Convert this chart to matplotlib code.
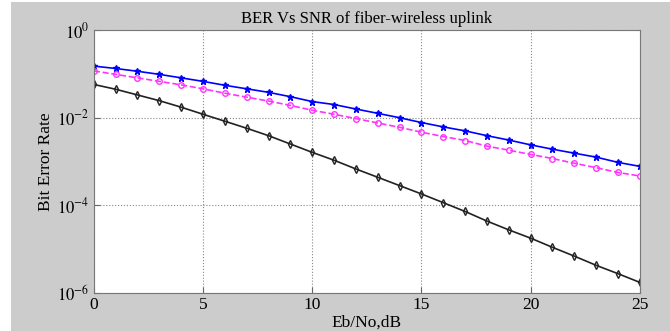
import matplotlib.pyplot as plt
from matplotlib.patches import Rectangle

# Eb/No in dB
snr_db = list(range(0, 26))

# BER curves for the fiber-wireless uplink
ber_blue = [0.151, 0.133, 0.115, 0.0977, 0.0813, 0.0676, 0.0550, 0.0457, 0.0380,
            0.0302, 0.0234, 0.0200, 0.0158, 0.0126, 0.0100, 0.00776, 0.00617,
            0.00501, 0.00389, 0.00309, 0.00240, 0.00191, 0.00155, 0.00126,
            0.000955, 0.000776]
ber_magenta = [0.117, 0.0977, 0.0813, 0.0676, 0.0562, 0.0457, 0.0363, 0.0295,
               0.0240, 0.0191, 0.0148, 0.0120, 0.00955, 0.00759, 0.00603,
               0.00468, 0.00372, 0.00302, 0.00224, 0.00182, 0.00145, 0.00117,
               0.000912, 0.000724, 0.000562, 0.000468]
ber_black = [0.0575, 0.0447, 0.0331, 0.0245, 0.0174, 0.0120, 0.00832, 0.00575,
             0.00389, 0.00251, 0.00162, 0.00107, 6.76e-4, 4.37e-4, 2.82e-4,
             1.82e-4, 1.15e-4, 7.24e-5, 4.37e-5, 2.75e-5, 1.78e-5, 1.10e-5,
             6.92e-6, 4.27e-6, 2.75e-6, 1.74e-6]

xticks = [0, 5, 10, 15, 20, 25]
yticks = [1e-6, 1e-4, 1e-2, 1e0]

plt.rcParams['font.family'] = ['Liberation Serif', 'DejaVu Serif']
plt.rcParams['mathtext.fontset'] = 'stix'

fig = plt.figure(figsize=(6.7, 3.31), dpi=100, facecolor='white')
# gray figure panel, MATLAB style
fig.add_artist(Rectangle((11 / 670, 0), 1, 329 / 331, transform=fig.transFigure,
                         facecolor='#cccccc', edgecolor='none', zorder=-10))

ax = fig.add_axes([0.140, 0.115, 0.815, 0.794])
ax.set_facecolor('white')

ax.semilogy(snr_db, ber_blue, color='#0000ff', marker='*', markersize=5,
            linewidth=1.2, linestyle='-')
ax.semilogy(snr_db, ber_magenta, color='#ff33ff', marker='o', markersize=4,
            markerfacecolor='none', linewidth=1.2, linestyle='--')
ax.semilogy(snr_db, ber_black, color='#222222', marker='d', markersize=4,
            markerfacecolor='none', linewidth=1.2, linestyle='-')

ax.set_xlim(0, 25)
ax.set_ylim(1e-6, 1)
ax.set_xticks(xticks)
ax.set_xticklabels([str(t) for t in xticks])
ax.set_yticks(yticks)
ax.set_yticklabels([r'$10^{%d}$' % p for p in [-6, -4, -2, 0]])
ax.minorticks_off()
ax.tick_params(direction='in', length=4, color='#666666', pad=3)
ax.tick_params(axis='x', labelsize=12.5)
ax.tick_params(axis='y', labelsize=12)
ax.grid(True, linestyle=':', color='#888888', linewidth=0.8)

for s in ax.spines.values():
    s.set_color('#777777')

ax.set_title('BER Vs SNR of fiber-wireless uplink', fontsize=12, pad=5)
ax.set_xlabel('Eb/No,dB', fontsize=12.5, labelpad=1)
ax.set_ylabel('Bit Error Rate', fontsize=12.5)
ax.yaxis.set_label_coords(-0.072, 0.5)

fig.savefig('out.png', dpi=100, facecolor=fig.get_facecolor())
